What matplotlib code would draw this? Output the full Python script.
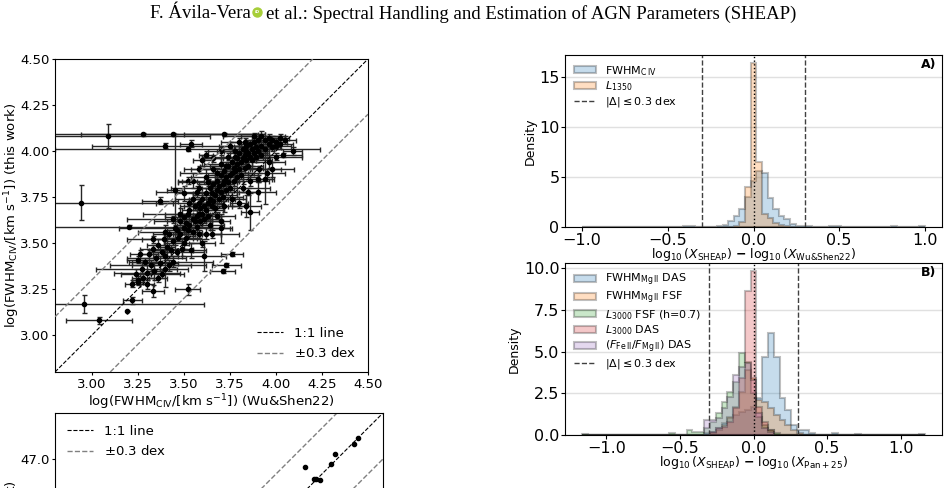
import matplotlib
matplotlib.use("Agg")
import matplotlib.pyplot as plt
import numpy as np

# --- C IV FWHM: Wu & Shen 2022 vs this work ---
ws_x = [
    3.09, 3.28, 3.44, 3.72, 3.40, 3.52, 2.94, 3.20, 2.96, 3.04,
    3.19, 3.22, 3.52, 3.76, 3.73, 3.71, 4.04, 4.09, 3.86, 3.45,
    3.37, 3.33, 3.26, 3.25, 3.33, 3.25, 3.54, 3.52, 3.94, 3.61,
    3.22, 3.24, 3.25, 3.27, 3.28, 3.29, 3.30, 3.31, 3.32, 3.33,
    3.34, 3.35, 3.36, 3.37, 3.38, 3.39, 3.40, 3.41, 3.42, 3.43,
    3.44, 3.45, 3.40, 3.36, 3.30, 3.47, 3.49, 3.44, 3.48, 3.50,
    3.46, 3.48, 3.50, 3.50, 3.51, 3.51, 3.52, 3.52, 3.53, 3.53,
    3.55, 3.55, 3.56, 3.56, 3.57, 3.57, 3.58, 3.58, 3.59, 3.59,
    3.60, 3.60, 3.61, 3.61, 3.62, 3.62, 3.63, 3.63, 3.64, 3.64,
    3.65, 3.65, 3.66, 3.66, 3.67, 3.67, 3.68, 3.68, 3.69, 3.69,
    3.70, 3.70, 3.71, 3.71, 3.72, 3.72, 3.73, 3.73, 3.74, 3.74,
    3.75, 3.75, 3.76, 3.76, 3.77, 3.77, 3.78, 3.78, 3.79, 3.79,
    3.80, 3.80, 3.81, 3.81, 3.82, 3.82, 3.83, 3.83, 3.84, 3.84,
    3.85, 3.85, 3.86, 3.86, 3.87, 3.87, 3.88, 3.88, 3.89, 3.89,
    3.90, 3.90, 3.92, 3.92, 3.94, 3.94, 3.96, 3.96, 3.98, 3.98,
    4.00, 4.00, 4.02, 4.02, 4.05, 3.80, 3.85, 3.90, 3.70, 3.60,
    3.65, 3.95, 3.60, 3.62, 3.55, 3.58, 3.66, 3.70, 3.75, 3.80,
    3.55, 3.58, 3.62, 3.66, 3.70, 3.74, 3.78, 3.83, 3.88, 3.92,
    3.72, 3.76, 3.82, 3.86, 3.91, 3.96, 4.00, 3.68, 3.64, 3.58,
    3.48, 3.44, 3.40, 3.53, 3.57, 3.63, 3.68, 3.73, 3.79, 3.84,
    3.50, 3.46, 3.42, 3.38, 3.54, 3.62, 3.70, 3.84, 3.90, 3.98,
]
sheap_y = [
    4.08, 4.09, 4.09, 4.09, 4.03, 4.01, 3.72, 3.59, 3.17, 3.08,
    3.13, 3.19, 3.25, 3.44, 3.38, 3.35, 3.98, 4.00, 3.67, 3.79,
    3.73, 3.52, 3.44, 3.29, 3.24, 3.41, 4.04, 3.84, 3.85, 3.43,
    3.28, 3.33, 3.30, 3.36, 3.31, 3.40, 3.34, 3.44, 3.38, 3.47,
    3.35, 3.42, 3.49, 3.39, 3.45, 3.52, 3.43, 3.48, 3.55, 3.46,
    3.51, 3.58, 3.36, 3.31, 3.28, 3.53, 3.47, 3.40, 3.62, 3.77,
    3.57, 3.55, 3.58, 3.64, 3.53, 3.61, 3.66, 3.57, 3.60, 3.68,
    3.63, 3.56, 3.70, 3.62, 3.65, 3.59, 3.72, 3.66, 3.62, 3.69,
    3.74, 3.66, 3.70, 3.63, 3.77, 3.68, 3.72, 3.65, 3.80, 3.74,
    3.70, 3.77, 3.82, 3.73, 3.76, 3.69, 3.84, 3.79, 3.74, 3.81,
    3.87, 3.78, 3.82, 3.75, 3.89, 3.84, 3.79, 3.86, 3.92, 3.83,
    3.87, 3.80, 3.94, 3.88, 3.84, 3.91, 3.97, 3.89, 3.86, 3.93,
    3.99, 3.90, 3.94, 3.87, 4.01, 3.96, 3.91, 3.98, 4.03, 3.95,
    3.99, 3.92, 4.04, 3.97, 3.95, 4.01, 4.05, 3.99, 3.97, 4.02,
    4.06, 4.00, 4.03, 3.98, 4.06, 4.01, 4.04, 4.07, 4.02, 4.06,
    4.05, 4.03, 4.07, 4.04, 4.06, 3.72, 3.78, 3.85, 3.62, 3.50,
    3.55, 3.88, 3.95, 3.98, 3.84, 3.90, 3.96, 4.00, 4.03, 4.05,
    3.74, 3.80, 3.86, 3.90, 3.93, 3.97, 4.00, 4.05, 4.08, 4.08,
    3.70, 3.74, 3.80, 3.84, 3.90, 3.94, 3.97, 3.65, 3.60, 3.55,
    3.66, 3.63, 3.56, 3.72, 3.78, 3.83, 3.88, 3.92, 3.96, 4.00,
    3.50, 3.45, 3.38, 3.33, 3.46, 3.55, 3.58, 3.70, 3.78, 3.90,
]
ws_xerr = [
    0.55, 0.62, 0.50, 0.22, 0.40, 0.72, 0.50, 0.45, 0.65, 0.18,
    0.00, 0.05, 0.07, 0.06, 0.08, 0.07, 0.10, 0.05, 0.05, 0.04,
    0.10, 0.06, 0.05, 0.03, 0.06, 0.06, 0.06, 0.05, 0.05, 0.12,
    0.04, 0.08, 0.03, 0.25, 0.06, 0.09, 0.18, 0.05, 0.22, 0.07,
    0.04, 0.16, 0.06, 0.10, 0.05, 0.20, 0.07, 0.04, 0.09, 0.12,
    0.05, 0.30, 0.06, 0.05, 0.04, 0.08, 0.06, 0.22, 0.14, 0.05,
    0.05, 0.08, 0.04, 0.10, 0.06, 0.03, 0.12, 0.05, 0.07, 0.04,
    0.09, 0.05, 0.06, 0.15, 0.04, 0.08, 0.05, 0.11, 0.06, 0.04,
    0.07, 0.05, 0.13, 0.04, 0.06, 0.09, 0.05, 0.07, 0.04, 0.10,
    0.06, 0.05, 0.08, 0.04, 0.12, 0.05, 0.06, 0.04, 0.09, 0.05,
    0.07, 0.04, 0.06, 0.11, 0.05, 0.08, 0.04, 0.06, 0.10, 0.05,
    0.07, 0.04, 0.06, 0.09, 0.05, 0.04, 0.08, 0.05, 0.12, 0.06,
    0.05, 0.07, 0.04, 0.09, 0.06, 0.05, 0.10, 0.04, 0.07, 0.05,
    0.06, 0.08, 0.05, 0.04, 0.11, 0.06, 0.05, 0.07, 0.04, 0.09,
    0.06, 0.05, 0.08, 0.04, 0.07, 0.05, 0.06, 0.09, 0.05, 0.04,
    0.06, 0.08, 0.05, 0.07, 0.06, 0.05, 0.06, 0.08, 0.05, 0.07,
    0.05, 0.10, 0.05, 0.04, 0.06, 0.08, 0.05, 0.07, 0.06, 0.05,
    0.10, 0.15, 0.08, 0.12, 0.09, 0.14, 0.10, 0.13, 0.17, 0.11,
    0.12, 0.08, 0.15, 0.10, 0.12, 0.09, 0.14, 0.10, 0.08, 0.12,
    0.20, 0.25, 0.15, 0.18, 0.22, 0.16, 0.20, 0.14, 0.18, 0.12,
    0.10, 0.15, 0.20, 0.12, 0.08, 0.18, 0.06, 0.08, 0.10, 0.12,
]
sheap_yerr = [
    0.065, 0.008, 0.008, 0.008, 0.015, 0.012, 0.095, 0.010, 0.050, 0.020,
    0.000, 0.020, 0.030, 0.010, 0.010, 0.010, 0.010, 0.020, 0.100, 0.300,
    0.020, 0.020, 0.020, 0.020, 0.030, 0.020, 0.020, 0.020, 0.140, 0.080,
    0.02, 0.03, 0.02, 0.02, 0.03, 0.02, 0.04, 0.02, 0.03, 0.02,
    0.05, 0.02, 0.03, 0.04, 0.02, 0.03, 0.02, 0.06, 0.02, 0.03,
    0.02, 0.02, 0.10, 0.02, 0.03, 0.02, 0.04, 0.03, 0.02, 0.04,
    0.02, 0.03, 0.02, 0.02, 0.04, 0.02, 0.02, 0.03, 0.02, 0.02,
    0.03, 0.02, 0.02, 0.02, 0.03, 0.02, 0.02, 0.03, 0.02, 0.02,
    0.02, 0.04, 0.02, 0.02, 0.03, 0.02, 0.02, 0.03, 0.02, 0.02,
    0.02, 0.03, 0.02, 0.02, 0.02, 0.03, 0.02, 0.02, 0.03, 0.02,
    0.02, 0.02, 0.03, 0.02, 0.02, 0.02, 0.03, 0.02, 0.02, 0.02,
    0.03, 0.02, 0.02, 0.02, 0.03, 0.02, 0.02, 0.02, 0.03, 0.02,
    0.02, 0.02, 0.03, 0.02, 0.02, 0.02, 0.03, 0.02, 0.02, 0.02,
    0.03, 0.02, 0.02, 0.02, 0.03, 0.02, 0.02, 0.02, 0.03, 0.02,
    0.02, 0.02, 0.03, 0.02, 0.02, 0.02, 0.03, 0.02, 0.02, 0.02,
    0.02, 0.02, 0.02, 0.03, 0.02, 0.03, 0.02, 0.02, 0.03, 0.02,
    0.02, 0.02, 0.03, 0.02, 0.04, 0.02, 0.02, 0.02, 0.02, 0.02,
    0.03, 0.02, 0.04, 0.02, 0.03, 0.02, 0.03, 0.02, 0.02, 0.03,
    0.03, 0.04, 0.02, 0.03, 0.02, 0.03, 0.02, 0.02, 0.03, 0.02,
    0.03, 0.02, 0.04, 0.02, 0.03, 0.02, 0.03, 0.02, 0.03, 0.02,
    0.03, 0.02, 0.03, 0.02, 0.04, 0.03, 0.08, 0.06, 0.05, 0.04,
]

# --- lower-left panel (only its top is on the page) ---
lum_ws = [46.79, 46.85, 46.86, 46.89, 46.96, 46.99, 47.11, 47.14, 46.70, 46.55]
lum_sheap = [46.95, 46.87, 46.87, 46.86, 46.97, 47.03, 47.10, 47.14, 46.68, 46.58]

# --- panel A: Delta log vs Wu & Shen 2022 (bin centre, density) ---
civ_fwhm_delta = [-0.394, -0.361, -0.262, -0.197, -0.164, -0.131, -0.098, -0.066,
                  -0.033, 0.0, 0.033, 0.066, 0.098, 0.131, 0.164, 0.197, 0.230,
                  0.262, 0.295, 0.328, 0.459, 0.492, 0.820, 0.984]
civ_fwhm_density = [0.1, 0.1, 0.05, 0.1, 0.25, 0.6, 1.1, 1.8,
                    3.0, 4.6, 5.6, 5.4, 2.9, 1.8, 1.1, 0.8, 0.3,
                    0.1, 0.1, 0.1, 0.1, 0.1, 0.1, 0.1]
l1350_delta = [-0.131, -0.098, -0.066, -0.033, 0.0, 0.033, 0.066, 0.098, 0.131, 0.164, 0.197]
l1350_density = [0.05, 0.1, 0.5, 4.0, 16.4, 6.5, 1.3, 0.9, 0.4, 0.25, 0.1]

# --- panel B: Delta log vs Pan+25 (bin centre, density) ---
mg_das_delta = [-0.316, -0.276, -0.237, -0.197, -0.158, -0.118, -0.079, -0.039, 0.0,
                0.039, 0.079, 0.118, 0.158, 0.197, 0.237, 0.276, 0.316, 0.355,
                0.395, 0.552, 0.710, 1.144]
mg_das_density = [0.1, 0.2, 0.4, 0.7, 1.0, 1.2, 1.4, 1.5, 1.7,
                  2.2, 4.7, 6.1, 4.7, 2.2, 1.5, 0.6, 0.3, 0.3,
                  0.1, 0.1, 0.05, 0.04]
mg_fsf_delta = [-0.276, -0.237, -0.197, -0.158, -0.118, -0.079, -0.039, 0.0,
                0.039, 0.079, 0.118, 0.158, 0.197, 0.237, 0.276, 0.316]
mg_fsf_density = [0.1, 0.3, 0.6, 1.1, 1.7, 2.6, 3.9, 3.4,
                  2.1, 2.0, 1.6, 1.2, 0.9, 0.6, 0.3, 0.1]
l3000_fsf_delta = [-1.144, -0.552, -0.434, -0.395, -0.355, -0.316, -0.276, -0.237,
                   -0.197, -0.158, -0.118, -0.079, -0.039, 0.0, 0.039, 0.079,
                   0.118, 0.158]
l3000_fsf_density = [0.04, 0.1, 0.3, 0.2, 0.2, 0.4, 0.8, 1.3,
                     2.0, 2.6, 3.2, 4.9, 4.4, 2.5, 1.1, 0.6,
                     0.3, 0.1]
l3000_das_delta = [-0.276, -0.237, -0.197, -0.158, -0.118, -0.079, -0.039, 0.0,
                   0.039, 0.079, 0.118]
l3000_das_density = [0.2, 0.4, 0.5, 0.8, 1.6, 3.4, 8.6, 9.8,
                     1.7, 0.8, 0.3]
feii_delta = [-0.316, -0.276, -0.237, -0.197, -0.158, -0.118, -0.079, -0.039, 0.0,
              0.039, 0.079, 0.118]
feii_density = [0.9, 0.9, 1.0, 1.6, 2.3, 3.6, 4.1, 4.3, 3.3,
                1.3, 0.4, 0.2]

dex_cut = 0.3

fig = plt.figure(figsize=(9.48, 4.88), dpi=100)

# page header
renderer = fig.canvas.get_renderer()
head_y = 1 - 14 / 488
t1 = fig.text(150 / 948, head_y, "F. Ávila-Vera", family="Liberation Serif",
              fontsize=13.5, va="center", ha="left")
bb = t1.get_window_extent(renderer)
x_icon = (bb.x1 + 6) / 948
fig.add_artist(plt.Line2D([x_icon], [head_y + 0.004], marker="o", ms=6.5,
                          color="#A6CE39", transform=fig.transFigure))
fig.text(x_icon, head_y + 0.004, "iD", fontsize=3.2, color="white",
         ha="center", va="center", fontweight="bold")
fig.text(x_icon + 9 / 948, head_y,
         "et al.: Spectral Handling and Estimation of AGN Parameters (SHEAP)",
         family="Liberation Serif", fontsize=13.5, va="center", ha="left")

# scatter panel
ax = fig.add_axes([55 / 948, 1 - 372 / 488, 313 / 948, 313 / 488])
ax.errorbar(ws_x, sheap_y, xerr=ws_xerr, yerr=sheap_yerr, fmt="o", ms=3,
            color="k", ecolor="0.15", elinewidth=1.0, capsize=1.8, zorder=2)
ax.axline((3.0, 3.0), slope=1, color="k", ls="--", lw=0.8, label="1:1 line", zorder=3)
ax.axline((3.0, 3.0 + dex_cut), slope=1, color="gray", ls="--", lw=1.0,
          label=r"$\pm$0.3 dex", zorder=3)
ax.axline((3.0, 3.0 - dex_cut), slope=1, color="gray", ls="--", lw=1.0, zorder=3)
ax.set_xlim(2.8, 4.5)
ax.set_ylim(2.8, 4.5)
ax.set_xticks([3.0, 3.25, 3.5, 3.75, 4.0, 4.25, 4.5])
ax.set_yticks([3.0, 3.25, 3.5, 3.75, 4.0, 4.25, 4.5])
ax.tick_params(labelsize=9.5, length=2.5, pad=1.5)
ax.set_xlabel(r"log(FWHM$_{\rm CIV}$/[km s$^{-1}$]) (Wu&Shen22)", fontsize=9.5, labelpad=1)
ax.set_ylabel(r"log(FWHM$_{\rm CIV}$/[km s$^{-1}$]) (this work)", fontsize=9.5)
ax.yaxis.set_label_coords(-0.105, 0.5)
ax.legend(loc="lower right", frameon=False, fontsize=9.5)

# lower-left panel (cut by the page, its x tick labels fall off the page)
ax3 = fig.add_axes([55 / 948, 1 - 413 / 488 - 0.672, 328 / 948, 0.672])
ax3.plot(lum_ws, lum_sheap, "o", ms=3, color="k")
ax3.axline((47.0, 47.0), slope=1, color="k", ls="--", lw=0.8, label="1:1 line")
ax3.axline((47.0, 47.0 + dex_cut), slope=1, color="gray", ls="--", lw=1.0,
           label=r"$\pm$0.3 dex")
ax3.axline((47.0, 47.0 - dex_cut), slope=1, color="gray", ls="--", lw=1.0)
ax3.set_xlim(45.16, 47.3)
ax3.set_ylim(45.16, 47.3)
ax3.set_yticks([45.5, 46.0, 46.5, 47.0])
ax3.tick_params(labelsize=9.5, length=2.5, pad=1.5, labelbottom=False)
ax3.set_ylabel(r"log($L_{1350}$/[erg s$^{-1}$]) (this work)", fontsize=9.5)
ax3.yaxis.set_label_coords(-0.1, 0.49)
ax3.legend(loc="upper left", frameon=False, fontsize=9.5)

hist_kw = dict(histtype="stepfilled", alpha=0.25, edgecolor="k", linewidth=1.5)
leg_kw = dict(loc="upper left", frameon=False, fontsize=8, labelspacing=0.15,
              handleheight=0.6, borderaxespad=0.4)

# panel A
axA = fig.add_axes([565 / 948, 1 - 227 / 488, 377 / 948, 172 / 488])
edgesA = np.linspace(-1.0, 1.0, 62)
axA.hist(civ_fwhm_delta, bins=edgesA, weights=civ_fwhm_density, color="C0",
         label=r"FWHM$_{\rm C\,IV}$", **hist_kw)
axA.hist(l1350_delta, bins=edgesA, weights=l1350_density, color="C1",
         label=r"$L_{1350}$", **hist_kw)
axA.axvline(-dex_cut, color="0.25", ls="--", lw=1.0, label=r"$|\Delta|\leq$0.3 dex")
axA.axvline(dex_cut, color="0.25", ls="--", lw=1.0)
axA.axvline(0.0, color="k", ls=":", lw=1.0)
axA.set_xlim(-1.1, 1.1)
axA.set_ylim(0, 17.2)
axA.set_yticks([0, 5, 10, 15])
axA.grid(axis="y", color="0.88", lw=1.0)
axA.set_axisbelow(True)
axA.tick_params(labelsize=11.5, length=3, pad=1)
axA.set_ylabel("Density", fontsize=9, labelpad=2)
axA.set_xlabel(r"$\log_{10}(X_{\rm SHEAP})$ $\mathbf{-}$ $\log_{10}(X_{\rm Wu&Shen22})$",
               fontsize=9, labelpad=-1)
axA.legend(**leg_kw)
axA.text(0.985, 0.98, "A)", transform=axA.transAxes, ha="right", va="top",
         fontweight="bold", fontsize=9)

# panel B
axB = fig.add_axes([565 / 948, 1 - 435 / 488, 377 / 948, 172 / 488])
edgesB = np.linspace(-1.164, 1.164, 60)
axB.hist(mg_das_delta, bins=edgesB, weights=mg_das_density, color="C0",
         label=r"FWHM$_{\rm Mg\,II}$ DAS", **hist_kw)
axB.hist(mg_fsf_delta, bins=edgesB, weights=mg_fsf_density, color="C1",
         label=r"FWHM$_{\rm Mg\,II}$ FSF", **hist_kw)
axB.hist(l3000_fsf_delta, bins=edgesB, weights=l3000_fsf_density, color="C2",
         label=r"$L_{3000}$ FSF (h=0.7)", **hist_kw)
axB.hist(l3000_das_delta, bins=edgesB, weights=l3000_das_density, color="C3",
         label=r"$L_{3000}$ DAS", **hist_kw)
axB.hist(feii_delta, bins=edgesB, weights=feii_density, color="C4",
         label=r"$(F_{\rm Fe\,II}/F_{\rm Mg\,II})$ DAS", **hist_kw)
axB.axvline(-dex_cut, color="0.25", ls="--", lw=1.0, label=r"$|\Delta|\leq$0.3 dex")
axB.axvline(dex_cut, color="0.25", ls="--", lw=1.0)
axB.axvline(0.0, color="k", ls=":", lw=1.0)
axB.set_xlim(-1.28, 1.28)
axB.set_ylim(0, 10.3)
axB.set_yticks([0, 2.5, 5, 7.5, 10])
axB.grid(axis="y", color="0.88", lw=1.0)
axB.set_axisbelow(True)
axB.tick_params(labelsize=11.5, length=3, pad=1)
axB.set_ylabel("Density", fontsize=9, labelpad=2)
axB.set_xlabel(r"$\log_{10}(X_{\rm SHEAP})$ $\mathbf{-}$ $\log_{10}(X_{\rm Pan+25})$",
               fontsize=9, labelpad=-1)
axB.legend(**leg_kw)
axB.text(0.985, 0.98, "B)", transform=axB.transAxes, ha="right", va="top",
         fontweight="bold", fontsize=9)

fig.savefig("out.png", dpi=100)
